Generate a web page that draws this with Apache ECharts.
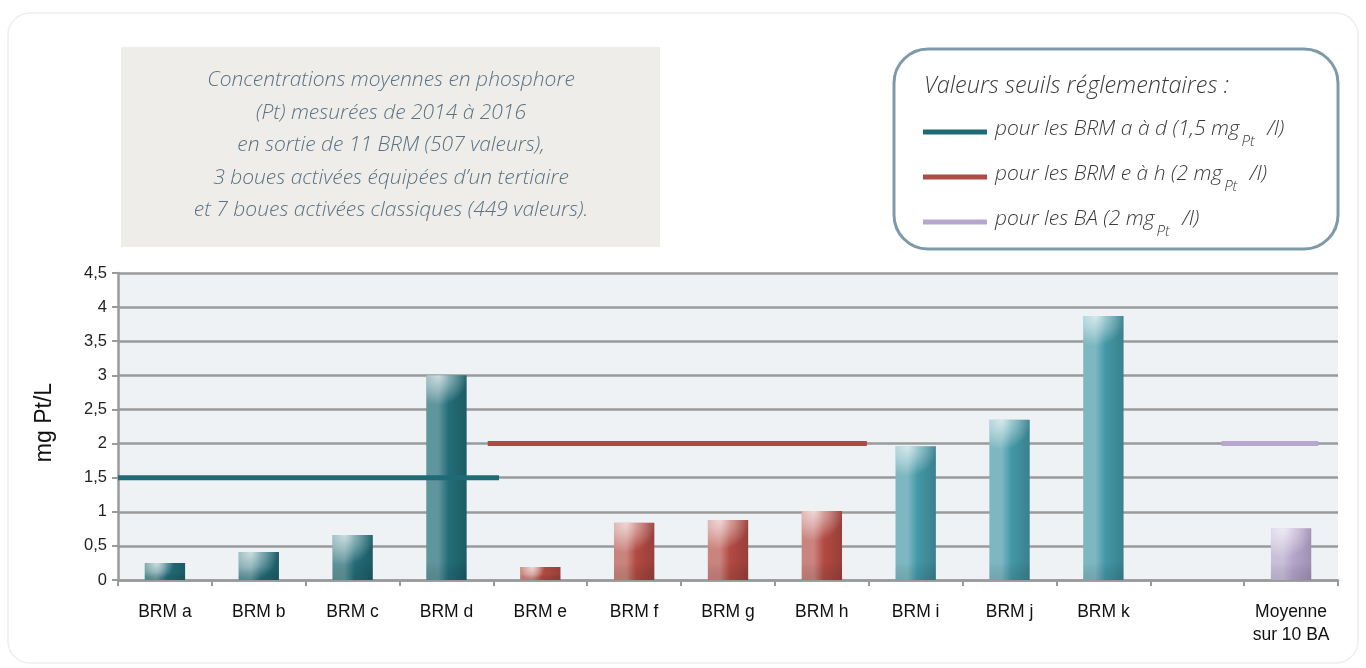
<!DOCTYPE html>
<html lang="fr">
<head>
<meta charset="utf-8">
<title>Concentrations moyennes en phosphore</title>
<script src="https://cdn.jsdelivr.net/npm/echarts@6/dist/echarts.min.js"></script>
<style>
  html, body { margin: 0; padding: 0; background: #ffffff; }
  #chart { width: 1366px; height: 668px; }
</style>
</head>
<body>
<div id="chart"></div>
<script>
// Stations and mean total phosphorus (mg Pt/L) at the outlet, 2014-2016
const categories = ['BRM a', 'BRM b', 'BRM c', 'BRM d', 'BRM e', 'BRM f', 'BRM g', 'BRM h',
                    'BRM i', 'BRM j', 'BRM k', '', 'Moyenne\nsur 10 BA'];
const values = [0.25, 0.41, 0.66, 3.0, 0.19, 0.84, 0.88, 1.01, 1.96, 2.35, 3.87, null, 0.76];
// Colour family of each bar
const families = ['teal', 'teal', 'teal', 'teal', 'red', 'red', 'red', 'red',
                  'aqua', 'aqua', 'aqua', null, 'lilac'];

// Regulatory thresholds, and the category span each one covers (in category units)
const thresholdNames = ['seuil a-d', 'seuil e-h', 'seuil BA'];
const thresholdLabels = [
  ['pour les BRM a à d (1,5 mg', 'Pt', ' /l)'],
  ['pour les BRM e à h (2 mg', 'Pt', ' /l)'],
  ['pour les BA (2 mg', 'Pt', ' /l)']
];
const thresholdValues = [1.5, 2, 2];
const thresholdSpans = [[0, 4.06], [3.94, 7.98], [11.76, 12.79]];
const thresholdColors = ['#1f6b75', '#b04a45', '#b5a7cd'];

const yTicks = [0, 0.5, 1, 1.5, 2, 2.5, 3, 3.5, 4, 4.5];

const palettes = {
  teal:  { light: '#5f959c', mid: '#236d78', dark: '#1c5b65' },
  aqua:  { light: '#7db8c2', mid: '#4398a7', dark: '#3a808d' },
  red:   { light: '#ca847e', mid: '#b24a42', dark: '#983f3a' },
  lilac: { light: '#c9bfda', mid: '#b4a5ca', dark: '#a091b4' }
};

const chart = echarts.init(document.getElementById('chart'), null, { renderer: 'canvas' });

const barData = values.map((v, i) => [i, v]);

function renderBar(params, api) {
  const v = api.value(1);
  if (v == null || isNaN(v)) return null;
  const idx = api.value(0);
  const pal = palettes[families[params.dataIndex]];
  const top = api.coord([idx, v]);
  const base = api.coord([idx, 0]);
  const bw = api.size([1, 0])[0] * 0.43;
  const x = top[0] - bw / 2;
  const y = top[1];
  const h = base[1] - top[1];
  const hl = Math.min(h, 30);
  const sh = Math.min(h * 0.45, 18);
  return {
    type: 'group',
    children: [
      {
        type: 'rect',
        shape: { x: x, y: y, width: bw, height: h },
        style: {
          fill: new echarts.graphic.LinearGradient(0, 0, 1, 0, [
            { offset: 0, color: pal.light },
            { offset: 0.3, color: pal.light },
            { offset: 0.55, color: pal.mid },
            { offset: 1, color: pal.dark }
          ])
        }
      },
      {
        // soft glare on the top-left of each bar
        type: 'rect',
        shape: { x: x, y: y, width: bw, height: hl },
        style: {
          fill: new echarts.graphic.RadialGradient(0.3, 0, 1, [
            { offset: 0, color: 'rgba(255,255,255,0.68)' },
            { offset: 0.5, color: 'rgba(255,255,255,0.36)' },
            { offset: 1, color: 'rgba(255,255,255,0)' }
          ])
        }
      },
      {
        type: 'rect',
        shape: { x: x, y: base[1] - sh, width: bw, height: sh },
        style: {
          fill: new echarts.graphic.LinearGradient(0, 0, 0, 1, [
            { offset: 0, color: 'rgba(0,0,0,0)' },
            { offset: 0.5, color: 'rgba(0,0,0,0.07)' },
            { offset: 1, color: 'rgba(0,0,0,0.10)' }
          ])
        }
      }
    ]
  };
}

const thresholdSeries = thresholdNames.map((name, i) => ({
  name: name,
  type: 'line',
  xAxisIndex: 1,
  yAxisIndex: 0,
  symbol: 'none',
  z: 5,
  silent: true,
  lineStyle: { color: thresholdColors[i], width: 5, cap: 'butt' },
  itemStyle: { color: thresholdColors[i] },
  data: thresholdSpans[i].map(x => [x, thresholdValues[i]])
}));

const axisFont = '"Liberation Sans", Arial, sans-serif';
const captionFont = '"Open Sans", Lato, sans-serif';

const option = {
  animation: false,
  backgroundColor: '#ffffff',
  grid: { left: 118, right: 28, top: 273, bottom: 88, show: true, backgroundColor: '#eef2f5', borderWidth: 0 },
  xAxis: [
    {
      type: 'category',
      data: categories,
      boundaryGap: true,
      axisLine: { lineStyle: { color: '#9a9a9a', width: 2.5 } },
      axisTick: { show: true, length: 6, lineStyle: { color: '#9a9a9a', width: 2 } },
      axisLabel: { color: '#111111', fontSize: 17.5, fontFamily: axisFont, margin: 21, lineHeight: 23, interval: 0 }
    },
    { type: 'value', min: 0, max: categories.length, show: false }
  ],
  yAxis: {
    type: 'value',
    min: yTicks[0],
    max: yTicks[yTicks.length - 1],
    interval: 0.5,
    name: 'mg Pt/L',
    nameLocation: 'middle',
    nameRotate: 90,
    nameGap: 62,
    nameTextStyle: { color: '#111111', fontSize: 23, fontFamily: axisFont, padding: [0, 0, 0, 8] },
    axisLine: { show: true, lineStyle: { color: '#9a9a9a', width: 2.5 } },
    axisTick: { show: true, length: 6, lineStyle: { color: '#9a9a9a', width: 2 } },
    axisLabel: {
      color: '#222222', fontSize: 16.5, fontFamily: axisFont, margin: 11,
      formatter: v => String(v).replace('.', ',')
    },
    splitLine: { show: true, lineStyle: { color: '#9a9a9a', width: 2.5 } }
  },
  legend: {
    orient: 'vertical',
    left: 923,
    top: 119,
    padding: 0,
    icon: 'rect',
    itemWidth: 64,
    itemHeight: 5,
    itemGap: 15,
    data: thresholdNames,
    selectedMode: false,
    formatter: name => {
      const parts = thresholdLabels[thresholdNames.indexOf(name)];
      return '{t|' + parts[0] + '}{s|' + parts[1] + '}{t|' + parts[2] + '}';
    },
    textStyle: {
      rich: {
        t: { fontSize: 21, fontStyle: 'italic', fontWeight: 300, fontFamily: captionFont, color: '#3a3a3a', lineHeight: 26, verticalAlign: 'top', padding: [0, 0, 0, 3] },
        s: { fontSize: 15, fontStyle: 'italic', fontWeight: 300, fontFamily: captionFont, color: '#3a3a3a', lineHeight: 15, verticalAlign: 'top', padding: [15, 4, 0, 2] }
      }
    }
  },
  graphic: [
    {
      type: 'rect', z: -10, silent: true,
      shape: { x: 8, y: 13, width: 1350, height: 650, r: 22 },
      style: { fill: '#ffffff', stroke: '#eeeeee', lineWidth: 1.5 }
    },
    {
      type: 'rect', z: -5, silent: true,
      shape: { x: 121, y: 47, width: 539, height: 200 },
      style: { fill: '#eeede9' }
    },
    {
      type: 'text', silent: true,
      x: 391, y: 64,
      style: {
        text: 'Concentrations moyennes en phosphore\n(Pt) mesurées de 2014 à 2016\nen sortie de 11 BRM (507 valeurs),\n3 boues activées équipées d\u2019un tertiaire\net 7 boues activées classiques (449 valeurs).',
        font: 'italic 300 21px ' + captionFont,
        align: 'center',
        verticalAlign: 'top',
        lineHeight: 32.5,
        fill: '#5b7282'
      }
    },
    {
      type: 'rect', silent: true,
      shape: { x: 894, y: 49, width: 444, height: 200, r: 34 },
      style: { fill: '#ffffff', stroke: '#7e9aaa', lineWidth: 3 }
    },
    {
      type: 'text', silent: true, z: 10,
      x: 924, y: 75,
      style: {
        text: 'Valeurs seuils réglementaires :',
        font: 'italic 300 23.5px ' + captionFont,
        verticalAlign: 'top',
        fill: '#3a3a3a'
      }
    }
  ],
  series: [
    {
      name: 'Concentration',
      type: 'custom',
      xAxisIndex: 0,
      yAxisIndex: 0,
      z: 3,
      renderItem: renderBar,
      encode: { x: 0, y: 1 },
      data: barData
    }
  ].concat(thresholdSeries)
};

chart.setOption(option);
</script>
</body>
</html>
